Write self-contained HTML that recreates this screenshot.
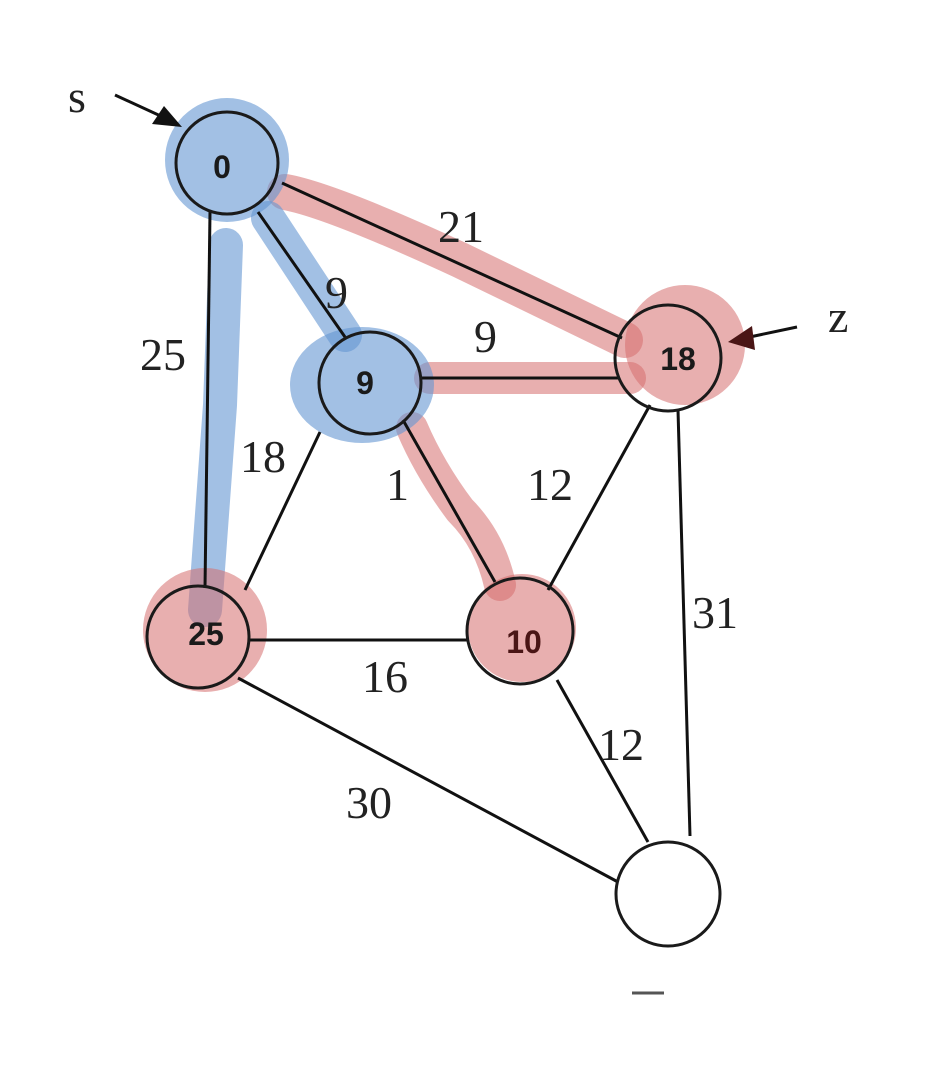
<!DOCTYPE html>
<html><head><meta charset="utf-8"><style>
html,body{margin:0;padding:0;background:#fff;}
svg{display:block}
.l{font-family:"Liberation Serif",serif;font-size:46px;fill:#222}
.n{font-family:"Liberation Sans",sans-serif;font-size:32px;font-weight:bold;fill:#1a1a1a}
</style></head><body>
<svg width="926" height="1084" viewBox="0 0 926 1084">
<g stroke-linecap="round" fill="none">
<path d="M285,192 Q330,200 460,260 L625,340" stroke="rgba(214,110,110,0.55)" stroke-width="36"/>
<path d="M430,378 L630,378" stroke="rgba(214,110,110,0.55)" stroke-width="32"/>
<path d="M412,428 Q430,470 460,510 Q490,540 500,585" stroke="rgba(214,110,110,0.55)" stroke-width="32"/>
<path d="M226,245 L220,405 L205,610" stroke="rgba(100,150,210,0.6)" stroke-width="34"/>
<path d="M268,218 L345,335" stroke="rgba(100,150,210,0.6)" stroke-width="34"/>
</g>
<circle cx="227" cy="160" r="62" fill="rgba(100,150,210,0.6)"/>
<ellipse cx="362" cy="385" rx="72" ry="58" fill="rgba(100,150,210,0.6)"/>
<circle cx="685" cy="345" r="60" fill="rgba(214,110,110,0.55)"/>
<circle cx="205" cy="630" r="62" fill="rgba(214,110,110,0.55)"/>
<circle cx="522" cy="628" r="54" fill="rgba(214,110,110,0.55)"/>
<g stroke="#111" stroke-width="3" fill="none">
<line x1="210" y1="212" x2="205" y2="588"/>
<line x1="258" y1="212" x2="345" y2="337"/>
<line x1="282" y1="183" x2="622" y2="338"/>
<line x1="420" y1="378" x2="618" y2="378"/>
<line x1="320" y1="432" x2="245" y2="590"/>
<line x1="403" y1="420" x2="495" y2="582"/>
<line x1="650" y1="405" x2="548" y2="590"/>
<line x1="678" y1="410" x2="690" y2="836"/>
<line x1="248" y1="640" x2="467" y2="640"/>
<line x1="238" y1="678" x2="618" y2="882"/>
<line x1="557" y1="680" x2="648" y2="842"/>
<line x1="115" y1="95" x2="165" y2="118"/>
<line x1="797" y1="327" x2="745" y2="338"/>
<line x1="632" y1="993" x2="664" y2="993" stroke="#555"/>
</g>
<polygon points="182,127 152,124 164,106" fill="#111"/>
<polygon points="728,342 752,326 755,350" fill="#4a1515"/>
<g stroke="#1a1a1a" stroke-width="3" fill="none">
<circle cx="227" cy="163" r="51"/>
<circle cx="370" cy="383" r="51"/>
<circle cx="668" cy="358" r="53"/>
<circle cx="198" cy="637" r="51"/>
<circle cx="520" cy="631" r="53"/>
<circle cx="668" cy="894" r="52"/>
</g>
<text class="n" x="222" y="178" text-anchor="middle">0</text>
<text class="n" x="365" y="394" text-anchor="middle">9</text>
<text class="n" x="678" y="370" text-anchor="middle">18</text>
<text class="n" x="206" y="645" text-anchor="middle">25</text>
<text class="n" x="524" y="653" text-anchor="middle" style="fill:#4a1515">10</text>
<text class="l" x="68" y="112">s</text>
<text class="l" x="828" y="332">z</text>
<text class="l" x="438" y="242">21</text>
<text class="l" x="325" y="308">9</text>
<text class="l" x="474" y="352">9</text>
<text class="l" x="140" y="370">25</text>
<text class="l" x="240" y="472">18</text>
<text class="l" x="386" y="500">1</text>
<text class="l" x="527" y="500">12</text>
<text class="l" x="692" y="628">31</text>
<text class="l" x="362" y="692">16</text>
<text class="l" x="598" y="760">12</text>
<text class="l" x="346" y="818">30</text>
</svg>
</body></html>
